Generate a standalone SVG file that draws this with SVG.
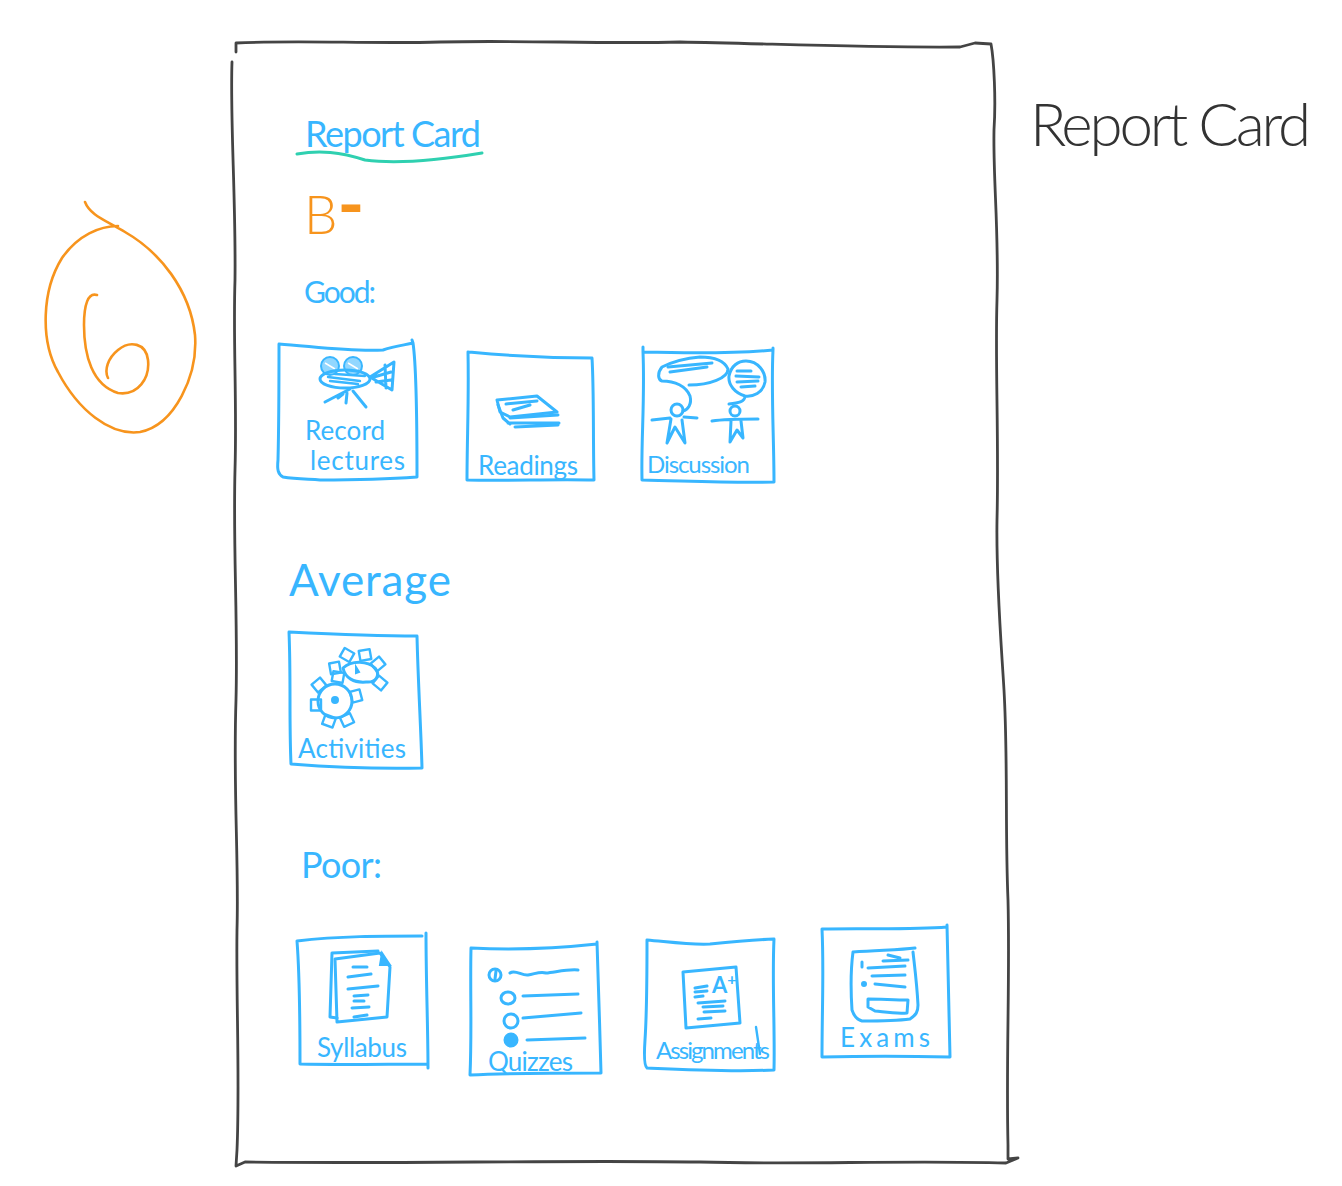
<svg xmlns="http://www.w3.org/2000/svg" width="1342" height="1186" viewBox="0 0 1342 1186">
<style>
.ink{fill:none;stroke:#38b6ff;stroke-width:3;stroke-linecap:round;stroke-linejoin:round}
.thin{fill:none;stroke:#38b6ff;stroke-width:2.4;stroke-linecap:round;stroke-linejoin:round}
.solid{fill:#38b6ff;stroke:#38b6ff;stroke-width:2}
.t{font-family:"Lato","Liberation Sans",sans-serif;font-weight:400;fill:#38b6ff}
.lab{font-size:26px}
</style>
<defs>
<rect id="tooth" x="-5.5" y="-5" width="11" height="10" class="thin"/>
</defs>
<rect width="1342" height="1186" fill="#fff"/>
<g id="page">
<path d="M236 52L236 43C300 40 370 44 440 42C520 40 600 44 680 42C780 44 880 48 960 47L975 43L991 44C994 60 996 100 994 130C993 180 999 230 997 300C995 360 999 440 997 520C996 580 1001 640 1004 690C1008 760 1005 830 1008 900C1010 980 1006 1060 1008 1145L1008 1159L1018 1158L1006 1163C900 1160 800 1165 700 1162C550 1160 400 1164 245 1162L236 1166L237 1150C240 1080 236 1000 237 930C239 860 233 790 236 700C238 620 233 550 235 470C237 400 233 340 235 280C236 200 230 120 232 62" fill="none" stroke="#444" stroke-width="2.8" stroke-linecap="round" stroke-linejoin="round"/>
</g>
<g id="side-title"><text x="1030" y="146" font-size="60" textLength="281" style="font-family:'Lato','Liberation Sans',sans-serif;font-weight:300;fill:#333">Report Card</text></g>
<g id="grade-circle"><path d="M85 202C90 215 105 220 125 232C160 252 190 290 195 335C198 375 175 425 140 432C110 436 78 410 58 372C40 340 42 290 62 258C78 235 100 226 118 226M97 295C88 292 84 305 84 325C84 355 92 385 118 393C138 396 150 378 148 360C146 343 130 340 118 350C108 358 104 370 108 378" fill="none" stroke="#f7941d" stroke-width="2.6" stroke-linecap="round"/></g>
<g id="heading">
<text class="t" x="305" y="147" font-size="36" textLength="176">Report Card</text>
<path d="M297 154C320 150 340 152 365 160C395 164 440 160 482 153" fill="none" stroke="#2fd0b0" stroke-width="3" stroke-linecap="round"/>
</g>
<g id="grade"><text x="304" y="234" font-size="53" style="font-family:'Lato','Liberation Sans',sans-serif;font-weight:300;fill:#f7941d">B<tspan dy="-4" font-size="72" font-weight="700">-</tspan></text></g>
<g id="section-labels">
<text class="t" x="304" y="303" font-size="30" textLength="72">Good:</text>
<text class="t" x="289" y="596" font-size="44" textLength="162">Average</text>
<text class="t" x="301" y="878" font-size="36" textLength="81">Poor:</text>
</g>

<g id="record-lectures">
<path class="ink" d="M279 344C310 346 350 352 383 350C395 346 405 345 413 343L412 340M413 343C417 370 417 440 417 477C390 479 350 480 320 480C305 479 295 479 283 477C278 474 277 470 278 460C279 420 279 380 279 344"/>
<circle class="solid" cx="330" cy="366" r="9" fill-opacity=".55"/><circle class="solid" cx="353" cy="366" r="9" fill-opacity=".55"/>
<path d="M325 363L335 369M348 363L358 369" stroke="#fff" stroke-width="1.5"/>
<ellipse class="ink" cx="345" cy="379" rx="25" ry="9"/>
<path class="thin" d="M328 377L360 381M330 381L358 384M335 374L365 376"/>
<path class="ink" d="M370 377L394 362L392 390ZM374 377L391 372M376 382L391 380M385 365L386 388"/>
<path class="ink" d="M350 389L325 402M347 393L346 403M353 391L366 407M343 394L338 398"/>
<text class="t lab" x="305" y="440" textLength="80">Record</text>
<text class="t lab" x="310" y="470" textLength="95">lectures</text>
</g>
<g id="readings">
<path class="ink" d="M468 352C490 354 530 358 592 358C594 390 593 440 594 480C550 479 510 481 467 480C467 440 469 400 468 352"/>
<path class="ink" d="M497 400L537 396L557 412L510 417L500 412ZM506 404L537 401M513 410L530 405"/>
<path class="ink" d="M510 418L558 415M508 423L559 423M515 427L558 425M498 405L503 418L510 424"/>
<text class="t lab" x="478" y="475" textLength="100">Readings</text>
</g>
<g id="discussion">
<path class="ink" d="M643 347L643 352C680 353 730 354 773 350L773 348M773 350C771 390 774 440 774 482C730 483 690 481 642 480C641 440 645 400 643 352"/>
<path class="ink" d="M689 385C710 385 728 378 728 369C724 360 712 357 700 357C688 358 672 362 662 367C657 373 658 380 662 381C675 381 686 386 690 396C692 404 688 410 683 411"/>
<path class="ink" d="M668 367L712 363M670 372L707 367"/>
<path class="ink" d="M746 361C758 361 766 372 765 382C763 393 753 397 745 396C735 393 728 385 729 376C731 366 738 361 746 361ZM745 396C745 402 738 403 729 404"/>
<path class="ink" d="M737 371L751 371M736 376L759 377M737 382L758 381M741 387L755 386"/>
<circle class="ink" cx="677" cy="410" r="6"/><circle class="ink" cx="735" cy="411" r="5"/>
<path class="ink" d="M652 420L670 418M684 417L697 418M671 419L667 443L675 427L685 443L682 420"/>
<path class="ink" d="M712 421C725 419 745 419 758 419M731 421L730 442L737 430L743 438L741 421"/>
<text class="t" x="647" y="473" font-size="24" textLength="103">Discussion</text>
</g>
<g id="activities">
<path class="ink" d="M289 632C330 634 380 636 417 636C418 680 421 730 422 768C380 769 330 767 291 764C289 720 291 680 289 632"/>
<circle class="ink" cx="335" cy="701" r="17"/><circle class="solid" cx="335" cy="700" r="3"/>
<use href="#tooth" transform="translate(319 685) rotate(-40)"/><use href="#tooth" transform="translate(338 677) rotate(10)"/><use href="#tooth" transform="translate(356 696) rotate(75)"/><use href="#tooth" transform="translate(316 705) rotate(90)"/><use href="#tooth" transform="translate(329 721) rotate(20)"/><use href="#tooth" transform="translate(347 720) rotate(-25)"/>
<path class="ink" d="M343 668C352 660 368 661 375 668C381 675 376 683 366 682C354 683 345 678 343 668Z" fill="#fff" style="fill:#fff"/>
<path class="solid" d="M356 667L359 672L356 673Z"/>
<use href="#tooth" transform="translate(347 655) rotate(30)"/><use href="#tooth" transform="translate(365 655) rotate(-10)"/><use href="#tooth" transform="translate(378 664) rotate(-40)"/><use href="#tooth" transform="translate(380 683) rotate(40)"/><use href="#tooth" transform="translate(335 668) rotate(80)"/>
<text class="t lab" x="298" y="758" textLength="108">Activities</text>
</g>
<g id="syllabus">
<path class="ink" d="M297 941C340 936 380 936 422 936M426 933C426 980 428 1030 428 1068M297 941C300 980 300 1030 300 1064C340 1065 390 1064 428 1064"/>
<path class="ink" d="M332 953L378 951M332 953L330 1017L337 1018"/>
<path class="ink" d="M335 959L380 953L390 967L387 1017L337 1022Z"/>
<path class="solid" d="M382 953L380 965L390 965Z"/>
<path class="ink" d="M353 967L367 967M348 977L371 974M348 989L378 986M354 996L368 995M354 1001L364 1001M352 1008L369 1007M354 1017L367 1015"/>
<text class="t lab" x="317" y="1057" textLength="90">Syllabus</text>
</g>
<g id="quizzes">
<path class="ink" d="M471 948C510 950 560 948 597 944M597 942C598 980 600 1030 601 1073C560 1073 510 1073 470 1075C472 1030 470 990 471 948"/>
<circle class="ink" cx="495" cy="975" r="6"/><path class="ink" d="M496 971L495 979"/>
<path class="ink" d="M510 973C515 969 522 976 528 975C535 974 540 971 546 973C556 972 568 969 578 970"/>
<ellipse class="ink" cx="508" cy="998" rx="7" ry="6"/><path class="ink" d="M523 996L578 994"/>
<circle class="ink" cx="511" cy="1021" r="7"/><path class="ink" d="M523 1018L581 1013"/>
<circle class="solid" cx="511" cy="1040" r="6.5"/><path class="ink" d="M527 1040L585 1038"/>
<text class="t lab" x="488" y="1071" textLength="85">Quizzes</text>
</g>
<g id="assignments">
<path class="ink" d="M647 940C670 942 690 945 710 944C730 942 750 940 774 939C772 980 775 1030 774 1070C730 1072 690 1070 647 1068C644 1066 644 1055 645 1040C647 1010 647 980 647 940"/>
<path class="ink" d="M683 972L736 967L740 1023L686 1028Z"/>
<path class="ink" d="M695 988L707 986M695 992L707 991M695 997L703 996M698 1003L725 1001M703 1007L723 1006M704 1012L725 1011M698 1019L711 1018"/>
<text x="712" y="993" font-size="22" font-weight="700" style="font-family:'Lato','Liberation Sans',sans-serif;fill:#38b6ff">A<tspan dy="-8" font-size="16">+</tspan></text>
<path class="thin" d="M756 1027L760 1054"/>
<text class="t" x="656" y="1059" font-size="24" textLength="114">Assignments</text>
</g>
<g id="exams">
<path class="ink" d="M822 929C860 928 910 930 947 927M947 925C948 970 949 1010 950 1057C910 1056 860 1056 822 1057C822 1010 824 970 822 929"/>
<path class="ink" d="M853 952C880 950 900 950 915 948M853 952C850 975 851 995 852 1010C854 1016 858 1020 862 1021C880 1021 895 1021 910 1019C916 1015 918 1012 918 1005C917 985 915 970 913 952"/>
<path class="ink" d="M862 962L862 967M868 968L905 966M872 976L905 975M875 984L905 987M883 961L908 960M888 955L900 958"/>
<circle class="solid" cx="864" cy="984" r="2"/>
<path class="ink" d="M868 999C880 999 895 1000 908 1000L907 1013C895 1014 885 1012 875 1011L868 1007Z"/>
<text class="t lab" x="840" y="1047" textLength="90">Exams</text>
</g>
</svg>
